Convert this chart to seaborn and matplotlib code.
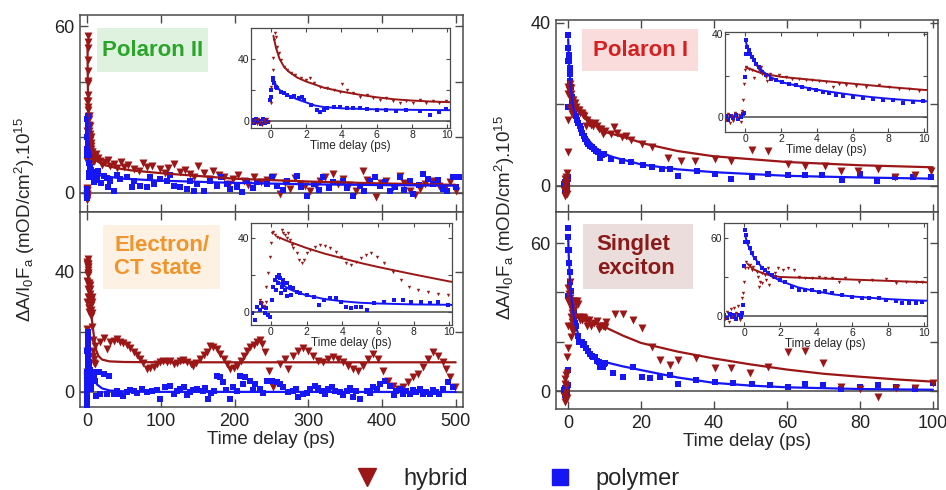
import numpy as np
import matplotlib
matplotlib.use('Agg')
import matplotlib.pyplot as plt
import seaborn as sns
from matplotlib.lines import Line2D
from matplotlib.patches import Rectangle

# ---------------- data (time in ps, signal) ----------------
# Polaron II  (top left)
pII_hyb_early = [(-1.0, -1.5), (-0.9, 0.5), (-0.8, -2.0), (-0.7, 1.0), (-0.6, -0.5), (-0.5, -2.5), (-0.4, 0.8),
                 (-0.3, -1.0), (-0.2, 1.5), (-0.1, -0.5), (0.0, 11.4), (0.04, 22.1), (0.1, 32.9), (0.15, 40.4),
                 (0.19, 52.3), (0.22, 56.6), (0.28, 54.4), (0.38, 47.9), (0.47, 43.7), (0.56, 39.4), (0.75, 35.1),
                 (0.94, 32.9), (1.12, 30.8), (1.4, 29.7), (1.69, 27.5), (1.97, 26.5), (2.25, 27.6), (2.43, 24.3),
                 (2.81, 22.1), (3.18, 21.1), (3.56, 20.1), (3.93, 19.0), (4.05, 24.0), (4.31, 20.1), (4.68, 17.8),
                 (5.06, 15.7), (5.43, 16.8), (5.81, 14.7), (6.18, 13.7), (6.55, 14.7), (6.93, 12.6), (7.3, 11.5),
                 (7.68, 12.6), (8.05, 11.5), (8.43, 13.7), (8.8, 11.5), (9.18, 12.6), (9.55, 11.5), (9.93, 12.6)]
pII_pol_early = [(-1.0, 0.5), (-0.95, -1.5), (-0.85, 1.2), (-0.75, -0.8), (-0.65, 0.3), (-0.55, -2.0), (-0.45, 1.0),
                 (-0.35, -1.2), (-0.25, 0.6), (-0.15, -0.5), (-0.06, 13.5), (0.0, 15.7), (0.04, 20.0), (0.1, 26.5),
                 (0.15, 27.5), (0.19, 24.3), (0.28, 22.1), (0.38, 21.1), (0.56, 18.9), (0.75, 17.8), (0.94, 16.8),
                 (1.12, 15.7), (1.31, 16.1), (1.59, 14.6), (1.78, 15.7), (1.87, 13.5), (2.3, 10.5), (2.62, 7.1),
                 (2.81, 5.8), (3.0, 7.1), (3.18, 8.2), (3.56, 9.3), (3.93, 8.8), (4.31, 8.2), (4.68, 8.2), (5.06, 8.2),
                 (5.43, 7.5), (5.99, 7.1), (6.55, 7.1), (7.12, 6.5), (7.68, 7.1), (8.43, 6.5), (8.99, 3.7),
                 (9.55, 5.8), (9.93, 7.5)]
pII_hyb_late = [(8.6, 12.7), (12, 14.0), (14, 12.5), (17.6, 11.5), (20, 10.0), (24.4, 10.9), (28, 11.8), (31, 9.5),
                (35.7, 10.3), (40, 8.8), (45, 11.0), (49.2, 9.3), (55, 9.8), (62.8, 8.5), (70, 7.8), (75, 10.8),
                (80.8, 9.3), (87.6, 9.7), (98.9, 8.5), (105, 7.2), (110, 9.0), (117, 10.3), (126, 7.3), (132, 8.2),
                (139, 6.7), (145, 5.8), (150, 9.5), (158, 7.0), (165, 4.8), (171, 7.7), (178, 6.5), (185, 5.5),
                (192, 3.2), (198, 5.0), (205, 6.2), (212, 4.3), (218, 2.8), (226, 5.5), (235, 3.8), (244, 4.6),
                (252, 5.8), (262, -0.5), (268, 3.5), (275, 1.3), (282, 5.2), (289, 3.1), (295, 2.2), (302, 0.7),
                (310, 2.5), (316, 4.3), (322, 5.8), (334, 6.7), (340, 3.2), (347, 5.0), (355, 2.8), (365, 0.7),
                (374, 7.9), (380, 4.6), (392, -1.7), (398, 3.5), (406, 4.3), (415, 2.0), (424, 6.1), (430, 3.6),
                (438, 0.7), (445, -0.8), (451, 1.3), (458, 3.0), (469, 4.3), (478, 2.5), (485, 1.8), (492, 4.0),
                (501, 0.7)]
pII_pol_late = [(4.1, 6.7), (8, 7.5), (10, 4.5), (13.1, 5.5), (15, 7.8), (18, 3.5), (22.1, 6.1), (26, 5.2), (28, 2.0),
                (31.2, 4.3), (35.7, 0.7), (40, 6.5), (44.7, 5.0), (53.7, 5.5), (60, 2.0), (62.8, 4.3), (71.8, 2.5),
                (80.8, 1.9), (85, 5.8), (89.9, 3.1), (98.9, 5.0), (107.9, 4.3), (112, 6.2), (117, 2.5), (126, 1.9),
                (135, 1.3), (139, 4.3), (145, 0.5), (149, 3.1), (158, 0.7), (167, 4.3), (176, 2.5), (182, 5.5),
                (189, 3.1), (194, 1.3), (203, 1.9), (210, 0.2), (216, 4.3), (225, 1.5), (230, 3.7), (244, 3.1),
                (250, 5.8), (257, 2.5), (265, 1.0), (271, 4.3), (284, 6.1), (290, 2.0), (298, -1.1), (307, 3.1),
                (315, 0.8), (320, 5.5), (328, 1.5), (334, 3.7), (347, 4.3), (352, 1.8), (361, -1.1), (370, 2.5),
                (376, 0.5), (384, 4.3), (390, 5.8), (397, 2.5), (404, 3.8), (411, 0.7), (418, 2.0), (424, 5.5),
                (430, 1.0), (438, 4.3), (442, -0.5), (450, 2.8), (456, 6.7), (462, 5.0), (469, 3.1), (476, 4.5),
                (483, 1.3), (488, 0.7), (496, 5.5), (500, 2.0), (505, 5.5)]
pII_hyb_fit = [(0.15, 55), (0.3, 47), (0.5, 40), (0.75, 35), (1, 32), (1.5, 28), (2, 25.5), (3, 21.5), (4, 19),
               (5, 17), (6, 15.3), (7, 14), (8, 13.2), (9, 12.6), (10, 12.2), (15, 11), (25, 9.8), (40, 8.8),
               (60, 8), (100, 7), (150, 6), (200, 5), (300, 4), (400, 3.3), (500, 2.8)]
pII_pol_fit = [(0.15, 27), (0.3, 23), (0.5, 20), (1, 16.5), (1.5, 14), (2, 12), (2.5, 10), (3, 9), (4, 8.2),
               (6, 7.5), (8, 7.2), (10, 7), (20, 6), (50, 5), (100, 4.3), (200, 3.5), (300, 3), (400, 2.7), (500, 2.5)]

# Electron / CT state  (bottom left)
ct_hyb_early = [(-0.62, 6.5), (-0.5, 5.0), (-0.4, 3.5), (-0.3, 5.5), (-0.25, 13.7), (-0.15, 20.9), (-0.06, 29.9),
                (0.0, 37.1), (0.04, 42.5), (0.13, 43.4), (0.23, 41.6), (0.32, 40.7), (0.47, 39.8), (0.6, 44.3),
                (0.7, 42.5), (0.79, 41.6), (0.88, 39.8), (0.98, 42.5), (1.07, 38.9), (1.17, 36.2), (1.26, 34.4),
                (1.45, 31.7), (1.6, 28.1), (1.73, 26.6), (1.86, 28.1), (2.02, 31.7), (2.2, 33.5), (2.49, 35.3),
                (2.77, 36.2), (3.05, 35.6), (3.33, 34.4), (3.62, 32.6), (3.9, 29.9), (4.18, 26.3), (4.46, 25.4),
                (4.75, 27.2), (5.03, 29.0), (5.31, 30.8), (5.59, 31.7), (5.97, 29.9), (6.35, 26.3), (6.82, 21.8),
                (7.29, 17.3), (7.76, 13.7), (8.23, 11.9), (8.79, 11.0), (9.36, 9.7), (9.92, 9.2)]
ct_pol_early = [(-1.09, -0.7), (-0.9, -4.3), (-0.81, 2.9), (-0.62, 1.1), (-0.53, 4.7), (-0.43, 2.9), (-0.34, -0.7),
                (-0.25, 2.0), (-0.15, -1.6), (-0.06, -2.5), (0.04, 6.5), (0.13, 13.7), (0.23, 17.3), (0.3, 12.0),
                (0.32, 19.1), (0.41, 15.5), (0.45, 20.0), (0.51, 18.2), (0.55, 10.5), (0.6, 13.7), (0.65, 15.0),
                (0.7, 17.3), (0.79, 11.9), (0.88, 15.5), (0.9, 8.5), (1.07, 13.7), (1.15, 9.0), (1.26, 12.8),
                (1.45, 11.0), (1.64, 10.1), (2.02, 9.2), (2.39, 8.3), (2.67, 3.8), (2.96, 6.5), (3.33, 7.4),
                (3.62, 7.4), (3.9, 5.6), (4.18, 2.5), (4.46, 2.0), (4.75, 2.5), (5.03, 2.9), (5.4, 1.1), (5.78, 4.7),
                (6.35, 5.6), (6.91, 6.5), (7.38, 6.5), (7.85, 5.6), (8.42, 5.6), (8.89, 4.7), (9.36, 5.6), (9.92, 3.8)]
ct_hyb_late = [(10.8, 15.4), (17.6, 16.6), (22, 18.0), (26.7, 14.3), (31, 16.5), (35.7, 17.1), (40, 17.5),
               (44.7, 16.6), (49, 16.2), (53.8, 15.5), (58, 14.6), (62.8, 13.2), (67, 12.2), (71.8, 11.0), (76, 9.5),
               (80.8, 7.7), (85, 8.0), (89.9, 8.2), (94, 9.2), (98.9, 9.9), (103, 10.4), (108, 9.9), (112, 10.2),
               (117, 9.3), (121, 9.8), (126, 10.4), (130, 10.6), (135, 9.9), (140, 9.4), (144, 8.8), (148, 9.6),
               (153, 11.0), (158, 12.2), (162, 13.2), (167, 15.4), (171, 15.0), (176, 14.3), (180, 12.8),
               (185, 11.0), (190, 9.2), (194, 7.7), (199, 8.0), (203, 8.8), (208, 10.4), (212, 12.1), (217, 13.6),
               (221, 14.9), (226, 15.8), (230, 16.6), (234, 17.3), (237, 16.0), (241, 13.2), (246, 7.1), (252, 1.5),
               (261.5, 9.3), (268.3, 11.0), (272.8, 7.7), (279.6, 12.1), (286.4, 13.8), (293.1, 14.6),
               (299.9, 13.8), (306.7, 12.1), (313.5, 10.4), (320.3, 10.1), (327, 11.0), (333.8, 11.6),
               (340.6, 11.0), (347.4, 9.9), (354.2, 8.8), (360.9, 7.7), (367.7, 7.1), (374.5, 8.8), (381.3, 11.0),
               (388, 12.7), (394.8, 11.0), (401.6, 7.1), (408.4, 3.8), (415.2, 1.9), (421.9, 1.0), (428.7, 1.6),
               (435.5, 3.2), (442.3, 4.9), (449, 6.0), (455.8, 8.2), (462.6, 11.0), (469.4, 13.2), (476.2, 12.1),
               (482.9, 9.9), (487.4, 7.7), (492, 4.9), (498.7, 1.6)]
ct_pol_late = [(8.6, 5.4), (12, -1.5), (15.4, 6.6), (17.6, -0.7), (22.1, 6.1), (26, -0.8), (29, 5.4), (35.7, -0.7),
               (40, 0.3), (44.7, -0.7), (48, -1.2), (53.7, -0.1), (58, 0.8), (62.8, 0.4), (68, -0.5), (74, 1.0),
               (80.8, -0.1), (87.6, 0.4), (94, 0.8), (98.9, -2.3), (105.7, 1.6), (112.5, 2.1), (118, -0.6),
               (121.5, 0.4), (126, 0.9), (130.5, 1.6), (135, -1.0), (139.5, -0.1), (144, 0.6), (148.6, 1.0),
               (157.6, 0.4), (160, 1.2), (164.4, -2.3), (168, -0.3), (171.2, 0.4), (175.7, 5.4), (180.2, 4.9),
               (184.7, 3.2), (188, 0.5), (193.8, -2.3), (198, 1.5), (202.8, 0.4), (207.3, 5.4), (211, 2.5),
               (214.1, 4.9), (220.9, 3.8), (225, 0.8), (227.6, 2.7), (234.4, 1.0), (238, -0.5), (243.4, 3.8),
               (250.2, 3.8), (257, 3.2), (262, 2.5), (266, 1.6), (272.8, -0.1), (279.6, 0.4), (283, 0.9),
               (286.4, -1.8), (293.1, -0.7), (298, -0.4), (302.2, 1.0), (309, 2.1), (313, 1.3), (318, 0.4),
               (323, -0.8), (327, 1.0), (332, 1.8), (336, 0.4), (342.9, -0.1), (347, -0.9), (351.9, 0.4),
               (356, 1.4), (360.9, -1.8), (365, 0.2), (370, -2.3), (379, 0.4), (384, -0.5), (388, 1.6), (393, 0.9),
               (397, 2.7), (403.8, 3.8), (410.6, 2.1), (416, -0.9), (419.6, 0.4), (424, 1.0), (428.7, -0.7),
               (433, 0.2), (437.7, -0.7), (442, 0.6), (446.7, -0.1), (451, 1.0), (455.8, -0.7), (460, 0.0),
               (464.8, -0.7), (469, 0.5), (473.8, -0.1), (478, -0.8), (482.9, 1.0), (489.6, 3.2), (496.4, 1.6)]
ct_hyb_fit = [(0.5, 40), (1, 38), (2, 34.5), (3, 31.5), (4, 29), (5, 26.5), (6, 24.3), (7, 22.3), (8, 20.3),
              (9, 18.4), (10, 16.5), (12, 14), (15, 12), (20, 10.8), (30, 10.2), (50, 10), (100, 9.9), (500, 9.9)]
ct_pol_fit = [(0.3, 17), (0.6, 15), (1, 12.5), (1.5, 10.5), (2, 9), (3, 7), (4, 5.8), (5, 5), (6, 4.6), (8, 4.1),
              (10, 3.9), (13, 2.5), (20, 1.2), (30, 0.5), (50, 0.2), (100, 0.05), (500, 0)]

# Polaron I  (top right)
pI_hyb_early = [(-1.05, -1.0), (-0.95, 1.5), (-0.85, -2.5), (-0.75, 0.5), (-0.65, -1.5), (-0.55, 2.0), (-0.45, -0.5),
                (-0.35, 1.0), (-0.25, -2.0), (-0.18, 3.0), (-0.1, 8.2), (-0.05, 16.2), (0.0, 22.6), (0.07, 24.2),
                (0.22, 23.4), (0.41, 22.6), (0.5, 19.0), (0.6, 25.0), (0.78, 22.6), (0.9, 24.0), (0.97, 21.0),
                (1.15, 19.4), (1.2, 17.5), (1.34, 20.2), (1.4, 21.0), (1.52, 18.6), (1.9, 20.2), (2.27, 19.4),
                (2.64, 18.6), (3.02, 18.6), (3.39, 17.8), (3.76, 17.8), (4.13, 17.3), (4.5, 17.0), (4.88, 14.6),
                (5.25, 16.2), (5.62, 15.4), (6.18, 14.9), (6.74, 14.6), (7.49, 15.4), (8.04, 14.6), (8.6, 13.8),
                (9.16, 13.8), (9.72, 12.6)]
pI_pol_early = [(-1.08, 0.5), (-0.95, -1.0), (-0.8, 0.8), (-0.65, -0.5), (-0.52, 1.2), (-0.38, -0.8), (-0.24, 0.3),
                (-0.12, 1.5), (-0.05, 2.0), (0.0, 19.4), (0.04, 30.6), (0.07, 37.0), (0.13, 33.8), (0.22, 32.2),
                (0.3, 30.6), (0.41, 29.0), (0.5, 27.4), (0.6, 25.8), (0.78, 24.2), (0.97, 21.8), (1.15, 20.2),
                (1.43, 18.6), (1.71, 17.8), (2.08, 17.0), (2.46, 16.2), (2.83, 15.4), (3.2, 14.6), (3.58, 13.8),
                (3.95, 13.0), (4.32, 12.2), (4.69, 11.5), (5.07, 10.6), (5.44, 10.2), (6.0, 9.8), (6.56, 9.5),
                (7.11, 9.0), (7.67, 8.5), (8.23, 8.2), (8.79, 6.9), (9.35, 7.4), (9.9, 7.7)]
pI_hyb_late = [(10.1, 13.5), (11.9, 12.7), (12.5, 14.5), (13.5, 13.0), (14.7, 11.9), (16, 12.3), (17.4, 11.1),
               (20.2, 10.2), (22.9, 9.4), (27.5, 6.9), (31.1, 6.1), (34.8, 6.1), (40.3, 6.5), (44.8, 6.1),
               (50.3, 8.7), (54.9, 8.5), (60.3, 5.3), (64.9, 4.9), (70.4, 4.7), (74.9, 3.7), (79.5, 3.7), (85, 4.1),
               (89.6, 2.0), (95, 2.5), (99.6, 3.7)]
pI_pol_late = [(11.9, 6.6), (14.7, 6.1), (17.4, 5.7), (20.6, 5.1), (22.9, 4.5), (25.7, 4.1), (28, 4.1), (30.2, 2.4),
               (35.3, 3.7), (40.3, 2.9), (44.8, 1.6), (50.3, 2.0), (54.9, 2.9), (60.3, 2.5), (64.9, 2.5),
               (69.5, 2.5), (75, 1.4), (80, 2.9), (84.6, 1.1), (89.6, 2.0), (94.5, 2.2), (99.6, 2.2)]
pI_hyb_fit = [(0.05, 24), (0.5, 22.5), (1, 21), (2, 19.5), (4, 17.8), (6, 16.2), (8, 14.6), (10, 13.2), (15, 12),
              (21, 10.3), (30, 8.5), (40, 7.2), (60, 5.8), (80, 5), (100, 4.5)]
pI_pol_fit = [(0.05, 36), (0.2, 32), (0.5, 27), (1, 22), (1.5, 19), (2, 17), (3, 15), (4, 13.3), (5, 12),
              (6, 10.8), (7, 9.8), (8, 9), (9, 8.3), (10, 7.8), (12.4, 7.0), (20, 5.2), (30, 4), (40, 3.3),
              (60, 2.4), (80, 2), (100, 1.7)]

# Singlet exciton  (bottom right)
sx_hyb_early = [(-1.05, -2.0), (-0.95, 3.0), (-0.85, -4.5), (-0.75, 5.0), (-0.65, -1.0), (-0.55, 6.5), (-0.45, 2.0),
                (-0.35, 7.5), (-0.25, -3.0), (-0.14, 13.6), (-0.05, 17.4), (0.0, 26.4), (0.04, 36.7), (0.13, 41.8),
                (0.22, 36.7), (0.3, 39.3), (0.41, 35.4), (0.5, 37.9), (0.6, 44.4), (0.69, 34.1), (0.78, 30.2),
                (0.8, 22.0), (0.87, 26.4), (0.97, 32.8), (1.0, 25.0), (1.15, 31.5), (1.2, 28.0), (1.34, 36.7),
                (1.4, 24.0), (1.52, 30.2), (1.71, 32.8), (1.9, 36.7), (2.18, 35.4), (2.46, 36.7), (2.74, 35.4),
                (3.02, 30.2), (3.39, 28.9), (3.76, 28.9), (4.13, 30.2), (4.5, 29.5), (4.88, 28.9), (5.25, 26.4),
                (5.62, 28.9), (6.37, 26.4), (7.11, 27.7), (7.86, 28.5), (8.42, 25.1), (8.99, 26.4), (9.53, 26.4),
                (9.9, 26.4)]
sx_pol_early = [(-1.1, 0.5), (-0.95, -1.5), (-0.8, 1.2), (-0.7, -0.8), (-0.55, 0.5), (-0.45, -2.0), (-0.3, 1.0),
                (-0.2, -0.5), (-0.1, 2.5), (-0.05, 8.5), (0.0, 38.5), (0.04, 57.2), (0.07, 66.2), (0.13, 62.3),
                (0.22, 57.2), (0.3, 52.0), (0.41, 48.2), (0.6, 44.4), (0.78, 40.5), (0.97, 36.7), (1.15, 35.4),
                (1.34, 32.8), (1.52, 31.5), (1.71, 30.2), (1.99, 27.7), (2.27, 26.4), (2.64, 22.5), (3.02, 19.9),
                (3.39, 19.9), (3.76, 19.9), (4.13, 18.7), (4.5, 19.2), (4.88, 17.4), (5.44, 16.2), (6.0, 14.9),
                (6.56, 14.1), (6.93, 13.6), (7.49, 13.6), (7.86, 12.3), (8.42, 11.6), (8.79, 9.9), (9.16, 9.9),
                (9.53, 9.9), (9.9, 11.1)]
sx_hyb_late = [(10.1, 25.8), (10.5, 28.0), (12.9, 31.4), (15.2, 31.4), (17.9, 29.0), (20.2, 25.4), (22.9, 18.0),
               (25.2, 12.6), (27.9, 10.5), (30.2, 12.6), (35.2, 13.2), (40.3, 9.2), (44.8, 9.2), (49.9, 7.2),
               (54.9, 9.9), (60.3, 15.9), (64.9, 16.4), (69.9, 11.2), (74.9, 1.8), (79.9, 0.7), (84.9, -2.3),
               (89.9, 1.1), (95, 1.1), (100, 3.1)]
sx_pol_late = [(10.1, 11.3), (12.4, 7.2), (15.2, 5.8), (17.9, 9.9), (20.2, 5.8), (22.5, 5.1), (25.2, 5.8),
               (27.9, 6.5), (30.2, 2.8), (35.2, 4.5), (40.3, 3.8), (45.3, 3.4), (50.3, 2.8), (55.3, 2.4),
               (60.3, 1.8), (64.9, 2.8), (69.9, 2.4), (74.9, 0.7), (79.9, 1.8), (84.9, 2.4), (89.9, 1.8), (95, 0.7),
               (100, 3.1)]
sx_hyb_fit = [(0.2, 40), (0.5, 36), (1, 33), (1.5, 31), (2, 30), (3, 29.5), (4, 29), (6, 28), (8, 27), (10, 26),
              (15, 22.5), (20, 19.5), (30, 16), (40, 13.2), (50, 10.8), (60, 8.7), (70, 7), (80, 5.8), (90, 4.7),
              (100, 3.8)]
sx_pol_fit = [(0.05, 62), (0.2, 55), (0.5, 46), (1, 37), (1.5, 31), (2, 27), (3, 22), (4, 19), (5, 16.5), (6, 15),
              (7, 14), (8, 13), (9, 12.3), (10, 11.8), (15, 10), (20, 8.5), (30, 5.5), (40, 3.3), (50, 2.2),
              (60, 1.5), (80, 0.8), (100, 0.5)]

RED = '#9b1616'
BLUE = '#1616f5'

sns.set_style('ticks')
plt.rcParams['font.family'] = ['Liberation Sans', 'DejaVu Sans']
plt.rcParams['mathtext.fontset'] = 'custom'
plt.rcParams['mathtext.rm'] = 'Liberation Sans'
plt.rcParams['mathtext.it'] = 'Liberation Sans:italic'
plt.rcParams['axes.edgecolor'] = '#4a4a4a'
plt.rcParams['xtick.color'] = '#4a4a4a'
plt.rcParams['ytick.color'] = '#4a4a4a'
plt.rcParams['xtick.labelcolor'] = '#222222'
plt.rcParams['ytick.labelcolor'] = '#222222'


def xy(pairs):
    a = np.array(pairs, dtype=float)
    return a[:, 0], a[:, 1]


def draw(ax, hyb, pol, hyb_fit, pol_fit, s_h, s_p, lw, red_top):
    ax.axhline(0, color='#555555', lw=1.2, zorder=0.5)
    ht, hv = xy(hyb)
    pt, pv = xy(pol)
    zr, zb = (3, 2) if red_top else (2, 3)
    sns.scatterplot(x=ht, y=hv, ax=ax, marker='v', s=s_h, color=RED, linewidth=0, legend=False, zorder=zr)
    sns.scatterplot(x=pt, y=pv, ax=ax, marker='s', s=s_p, color=BLUE, linewidth=0, legend=False, zorder=zb)
    ft, fv = xy(hyb_fit)
    sns.lineplot(x=ft, y=fv, ax=ax, color=RED, linewidth=lw, sort=False, estimator=None, legend=False, zorder=4)
    ft, fv = xy(pol_fit)
    sns.lineplot(x=ft, y=fv, ax=ax, color=BLUE, linewidth=lw, sort=False, estimator=None, legend=False, zorder=4)
    ax.set_xlabel('')
    ax.set_ylabel('')


def style_main(ax, xlim, ylim, xticks, yticks, ylabels, bottom):
    ax.set_xlim(xlim)
    ax.set_ylim(ylim)
    ax.set_xticks(xticks)
    ax.set_yticks(yticks)
    ax.set_yticklabels(ylabels)
    ax.tick_params(direction='in', top=True, right=True, length=6, width=1, labelsize=13, pad=4)
    for sp in ax.spines.values():
        sp.set_linewidth(1.1)
    if bottom:
        ax.set_xlabel('Time delay (ps)', fontsize=13.5, labelpad=1)
    else:
        ax.tick_params(labelbottom=False)


def inset(rect, hyb, pol, hyb_fit, pol_fit, ylim, yticks, ylabels):
    ax = fig.add_axes(rect)
    ax.set_facecolor('white')
    draw(ax, hyb, pol, hyb_fit, pol_fit, 6, 5, 1.4, True)
    ax.set_xlim(-1.12, 10.15)
    ax.set_ylim(ylim)
    ax.set_xticks([0, 2, 4, 6, 8, 10])
    ax.set_yticks(yticks)
    ax.set_yticklabels(ylabels)
    ax.tick_params(direction='in', top=True, right=True, length=3, width=0.8, labelsize=7.5, pad=1.5)
    for sp in ax.spines.values():
        sp.set_linewidth(0.9)
    ax.set_xlabel('Time delay (ps)', fontsize=8.5, labelpad=0)
    return ax


def tag(ax, box, text, pos, color, face, ha='center'):
    x0, x1, y0, y1 = box
    ax.add_patch(Rectangle((x0, y0), x1 - x0, y1 - y0, transform=ax.transAxes, facecolor=face,
                           edgecolor='none', zorder=5))
    ax.text(pos[0], pos[1], text, transform=ax.transAxes, ha=ha, va='center', color=color,
            fontsize=16, fontweight='bold', linespacing=1.15, zorder=6)


fig = plt.figure(figsize=(9.46, 4.9), dpi=100)

ax_tl = fig.add_axes([0.0846, 0.5673, 0.4049, 0.4020])
ax_bl = fig.add_axes([0.0846, 0.1694, 0.4049, 0.3980])
ax_tr = fig.add_axes([0.5877, 0.5673, 0.4038, 0.3918])
ax_br = fig.add_axes([0.5877, 0.1653, 0.4038, 0.4020])

draw(ax_tl, pII_hyb_early + pII_hyb_late, pII_pol_early + pII_pol_late, pII_hyb_fit, pII_pol_fit, 33, 25, 1.6, False)
draw(ax_bl, ct_hyb_early + ct_hyb_late, ct_pol_early + ct_pol_late, ct_hyb_fit, ct_pol_fit, 33, 25, 1.6, False)
draw(ax_tr, pI_hyb_early + pI_hyb_late, pI_pol_early + pI_pol_late, pI_hyb_fit, pI_pol_fit, 33, 25, 1.6, True)
draw(ax_br, sx_hyb_early + sx_hyb_late, sx_pol_early + sx_pol_late, sx_hyb_fit, sx_pol_fit, 33, 25, 1.6, True)

style_main(ax_tl, (-10, 510), (-7, 64), range(0, 501, 100), [0, 20, 40, 60], ['0', '', '', '60'], False)
style_main(ax_bl, (-10, 510), (-5, 60), range(0, 501, 100), [0, 20, 40], ['0', '', '40'], True)
style_main(ax_tr, (-3.3, 101.4), (-6.5, 40.7), range(0, 101, 20), [0, 20, 40], ['0', '', '40'], False)
style_main(ax_br, (-3.3, 101.4), (-7.3, 72.6), range(0, 101, 20), [0, 20, 40, 60], ['0', '', '', '60'], True)

tag(ax_tl, (0.044, 0.334, 0.711, 0.934), 'Polaron II', (0.189, 0.822), '#2aa52a', '#dff2df')
tag(ax_bl, (0.060, 0.366, 0.605, 0.933), 'Electron/\nCT state', (0.089, 0.769), '#f0942c', '#fdf1e3', 'left')
tag(ax_tr, (0.068, 0.372, 0.734, 0.953), 'Polaron I', (0.220, 0.843), '#d61f1f', '#fadcdc')
tag(ax_br, (0.071, 0.359, 0.609, 0.939), 'Singlet\nexciton', (0.107, 0.774), '#8a1a1a', '#ecdddd', 'left')

inset([0.2653, 0.7388, 0.2104, 0.2041], pII_hyb_early, pII_pol_early, pII_hyb_fit, pII_pol_fit,
      (-4.5, 60), [0, 20, 40], ['0', '', '40'])
inset([0.2653, 0.3367, 0.2125, 0.2082], ct_hyb_early, ct_pol_early, ct_hyb_fit, ct_pol_fit,
      (-7, 48), [0, 20, 40], ['0', '', '40'])
inset([0.7664, 0.7306, 0.2135, 0.2041], pI_hyb_early, pI_pol_early, pI_hyb_fit, pI_pol_fit,
      (-7, 41), [0, 20, 40], ['0', '', '40'])
inset([0.7653, 0.3347, 0.2146, 0.2102], sx_hyb_early, sx_pol_early, sx_hyb_fit, sx_pol_fit,
      (-7.7, 71.5), [0, 30, 60], ['0', '', '60'])

ylab = u'\u0394A/I$_{\\rm 0}$F$_{\\rm a}$ (mOD/cm$^{\\rm 2}$).10$^{\\rm 15}$'
fig.text(25 / 946, 1 - 220 / 490, ylab, rotation=90, ha='center', va='center', fontsize=13.5)
fig.text(505 / 946, 1 - 218 / 490, ylab, rotation=90, ha='center', va='center', fontsize=13.5)

handles = [Line2D([], [], marker='v', color=RED, ls='none', ms=13),
           Line2D([], [], marker='s', color=BLUE, ls='none', ms=12)]
fig.legend(handles, ['hybrid', 'polymer'], loc='center', bbox_to_anchor=(0.5407, 0.022), ncol=2,
           frameon=False, fontsize=17, handletextpad=0.5, columnspacing=2.9, borderpad=0)

fig.savefig('out.png', dpi=100)
